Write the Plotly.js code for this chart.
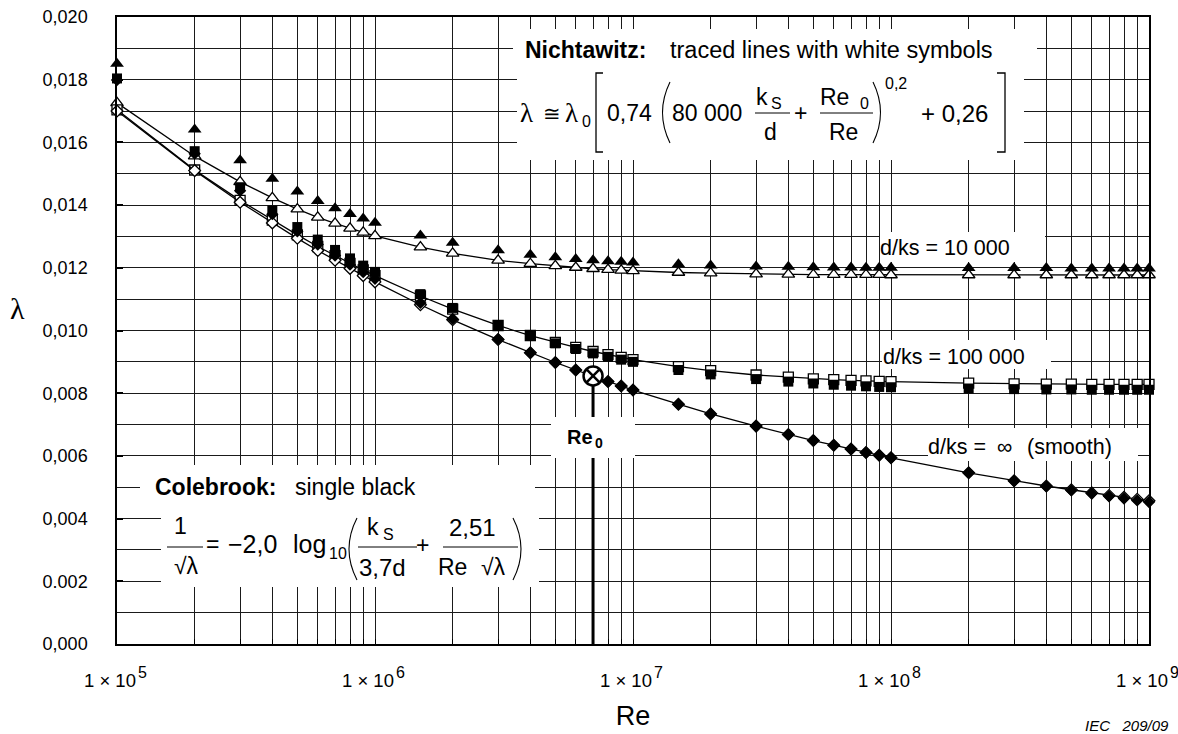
<!DOCTYPE html>
<html>
<head>
<meta charset="utf-8">
<script src="https://cdn.plot.ly/plotly-3.0.1.min.js"></script>
<style>
  html, body { margin: 0; padding: 0; background: #ffffff; }
  #chart { width: 1178px; height: 734px; }
</style>
</head>
<body>
<div id="chart"></div>
<script>
// Reynolds numbers at which the friction factor is evaluated
const reynolds = [
  1e5, 2e5, 3e5, 4e5, 5e5, 6e5, 7e5, 8e5, 9e5, 1e6,
  1.5e6, 2e6, 3e6, 4e6, 5e6, 6e6, 7e6, 8e6, 9e6, 1e7,
  1.5e7, 2e7, 3e7, 4e7, 5e7, 6e7, 7e7, 8e7, 9e7, 1e8,
  2e8, 3e8, 4e8, 5e8, 6e8, 7e8, 8e8, 9e8, 1e9
];

// Colebrook (single black symbols)
const colebrook10k = [
  0.01851, 0.01641, 0.01543, 0.01484, 0.01443, 0.01413, 0.01390, 0.01372, 0.01357, 0.01344,
  0.01303, 0.01280, 0.01256, 0.01242, 0.01234, 0.01228, 0.01224, 0.01221, 0.01219, 0.01217,
  0.01211, 0.01207, 0.01204, 0.01203, 0.01202, 0.01201, 0.01201, 0.01200, 0.01200, 0.01200,
  0.01199, 0.01199, 0.01199, 0.01198, 0.01198, 0.01198, 0.01198, 0.01198, 0.01198
];
const colebrook100k = [
  0.01804, 0.01572, 0.01457, 0.01383, 0.01330, 0.01290, 0.01257, 0.01230, 0.01207, 0.01187,
  0.01116, 0.01072, 0.01017, 0.00983, 0.00959, 0.00941, 0.00927, 0.00916, 0.00907, 0.00900,
  0.00874, 0.00860, 0.00845, 0.00837, 0.00831, 0.00827, 0.00824, 0.00822, 0.00820, 0.00819,
  0.00815, 0.00813, 0.00812, 0.00812, 0.00811, 0.00811, 0.00811, 0.00811, 0.00811
];
const colebrookSmooth = [
  0.01799, 0.01564, 0.01446, 0.01371, 0.01316, 0.01274, 0.01239, 0.01210, 0.01186, 0.01165,
  0.01088, 0.01037, 0.00972, 0.00929, 0.00898, 0.00874, 0.00854, 0.00837, 0.00823, 0.00810,
  0.00765, 0.00734, 0.00695, 0.00668, 0.00649, 0.00634, 0.00622, 0.00611, 0.00602, 0.00594,
  0.00546, 0.00520, 0.00503, 0.00490, 0.00480, 0.00471, 0.00464, 0.00458, 0.00453
];

// Nichtawitz (traced lines with white symbols)
const nichtawitz10k = [
  0.01726, 0.01556, 0.01474, 0.01423, 0.01387, 0.01361, 0.01342, 0.01326, 0.01313, 0.01302,
  0.01266, 0.01246, 0.01224, 0.01213, 0.01206, 0.01201, 0.01197, 0.01194, 0.01192, 0.01190,
  0.01185, 0.01183, 0.01180, 0.01179, 0.01178, 0.01178, 0.01178, 0.01178, 0.01178, 0.01177,
  0.01177, 0.01177, 0.01177, 0.01177, 0.01177, 0.01177, 0.01177, 0.01177, 0.01177
];
const nichtawitz100k = [
  0.01704, 0.01512, 0.01415, 0.01352, 0.01305, 0.01268, 0.01239, 0.01214, 0.01193, 0.01175,
  0.01110, 0.01068, 0.01016, 0.00984, 0.00962, 0.00946, 0.00933, 0.00923, 0.00914, 0.00907,
  0.00885, 0.00872, 0.00858, 0.00851, 0.00846, 0.00843, 0.00841, 0.00839, 0.00838, 0.00837,
  0.00832, 0.00830, 0.00829, 0.00829, 0.00828, 0.00828, 0.00828, 0.00828, 0.00828
];
const nichtawitzSmooth = [
  0.01700, 0.01510, 0.01409, 0.01343, 0.01294, 0.01255, 0.01224, 0.01198, 0.01175, 0.01155,
  0.01082, 0.01034, 0.00971, 0.00929, 0.00898, 0.00874, 0.00854, 0.00837, 0.00823, 0.00810,
  0.00765, 0.00734, 0.00695, 0.00668, 0.00649, 0.00634, 0.00622, 0.00611, 0.00602, 0.00594,
  0.00546, 0.00521, 0.00504, 0.00492, 0.00482, 0.00474, 0.00468, 0.00462, 0.00457
];

// Reference point Re0 / lambda0
const re0 = [7e6];
const lambda0 = [0.00855];

// Axis tick labels
const yTickValues = [0, 0.002, 0.004, 0.006, 0.008, 0.010, 0.012, 0.014, 0.016, 0.018, 0.020];
const yTickLabels = ['0,000', '0.002', '0,004', '0,006', '0,008', '0,010', '0,012', '0,014', '0,016', '0,018', '0,020'];
const xDecades = [1e5, 1e6, 1e7, 1e8, 1e9];
const xTickMantissa = ['1 \u00d7 10', '1 \u00d7 10', '1 \u00d7 10', '1 \u00d7 10', '1 \u00d7 10'];
const xTickExponent = ['5', '6', '7', '8', '9'];

// ---- layout geometry (pixels) ----
const L = 117, R = 1149, T = 17, B = 644;
const Y_MAX = 0.020;
const fx = p => (p - L) / (R - L);
const fy = p => (B - p) / (B - T);
// pixel -> axis value, for panels placed on the subplot
const ax = p => Math.pow(10, 5 + 4 * (p - L) / (R - L));
const ay = p => Y_MAX * (B - p) / (B - T);

// minor x grid: 2..9 within every decade
const xMinor = [];
for (let d = 0; d < xDecades.length - 1; d++) {
  for (let k = 2; k <= 9; k++) xMinor.push(k * xDecades[d]);
}

const SANS = 'Liberation Sans, Arial, Helvetica, sans-serif';
const SERIF = 'Liberation Serif, Times New Roman, serif';
const INK = '#000000';
const GRID = '#1a1a1a';

function note(text, x, y, opts) {
  const font = Object.assign({ family: SANS, size: 23, color: INK }, (opts && opts.font) || {});
  const o = Object.assign({
    text: text, x: fx(x), y: fy(y), xref: 'paper', yref: 'paper',
    showarrow: false, xanchor: 'left', yanchor: 'middle', borderpad: 0
  }, opts || {});
  o.font = font;
  return o;
}

// panels behind the labels: over the grid, under the data
function whiteBox(x0, x1, y0, y1) {
  return { type: 'rect', xref: 'x', yref: 'y', x0: ax(x0), x1: ax(x1), y0: ay(y1), y1: ay(y0),
           fillcolor: '#ffffff', line: { width: 0 }, layer: 'between' };
}
function rule(x0, x1, y, w) {
  return { type: 'line', xref: 'paper', yref: 'paper', x0: fx(x0), x1: fx(x1), y0: fy(y), y1: fy(y),
           line: { color: INK, width: w || 1 }, layer: 'above' };
}
function pathShape(points, w) {
  const d = points.map(seg => {
    const coords = [];
    for (let i = 1; i < seg.length; i += 2) coords.push(fx(seg[i]).toFixed(5) + ',' + fy(seg[i + 1]).toFixed(5));
    return seg[0] + coords.join(' ');
  }).join(' ');
  return { type: 'path', xref: 'paper', yref: 'paper', path: d,
           line: { color: INK, width: w || 1.2 }, layer: 'above' };
}

// ---- traces ----
function whiteSeries(y, symbol, size) {
  return {
    x: reynolds, y: y, type: 'scatter', mode: 'lines+markers', cliponaxis: false, hoverinfo: 'skip',
    line: { color: INK, width: 1.3 },
    marker: { symbol: symbol, size: size, color: '#ffffff', line: { color: INK, width: 1.3 } }
  };
}
function blackSeries(y, symbol, size) {
  return {
    x: reynolds, y: y, type: 'scatter', mode: 'markers', cliponaxis: false, hoverinfo: 'skip',
    marker: { symbol: symbol, size: size, color: INK, line: { width: 0 } }
  };
}

const traces = [
  whiteSeries(nichtawitz10k, 'triangle-up', 11),
  whiteSeries(nichtawitz100k, 'square', 10),
  whiteSeries(nichtawitzSmooth, 'diamond', 9),
  blackSeries(colebrook10k, 'triangle-up', 12),
  blackSeries(colebrook100k, 'square', 10),
  blackSeries(colebrookSmooth, 'diamond', 9.5),
  {
    x: re0, y: lambda0, type: 'scatter', mode: 'markers', cliponaxis: false, hoverinfo: 'skip',
    marker: { symbol: 'circle-x', size: 19, color: '#ffffff', line: { color: INK, width: 2.5 } }
  }
];

// ---- shapes ----
const shapes = [
  // Re0 marker line down to the axis
  { type: 'line', xref: 'x', yref: 'y', x0: re0[0], x1: re0[0], y0: 0, y1: lambda0[0],
    line: { color: INK, width: 3 }, layer: 'between' },
  // white label panels
  whiteBox(513, 1037, 29, 63),
  whiteBox(517, 1024, 63, 160),
  whiteBox(880, 1045, 232, 262),
  whiteBox(882, 1051, 340, 369),
  whiteBox(928, 1138, 428, 461),
  whiteBox(551, 635, 417, 458),
  whiteBox(140, 535, 465, 503),
  whiteBox(161, 539, 503, 587),
  // Nichtawitz formula: fraction bars, brackets and parentheses
  rule(755, 790, 113),
  rule(820, 873, 113),
  pathShape([['M', 603, 73], ['L', 596, 73], ['L', 596, 152], ['L', 603, 152]], 1.3),
  pathShape([['M', 997, 73], ['L', 1005, 73], ['L', 1005, 152], ['L', 997, 152]], 1.3),
  pathShape([['M', 670, 82], ['Q', 655, 112.5, 670, 143]], 1.1),
  pathShape([['M', 873, 82], ['Q', 888, 112.5, 873, 143]], 1.1),
  // Colebrook formula
  rule(167, 203, 547),
  rule(358, 417, 547),
  rule(443, 518, 547),
  pathShape([['M', 357, 518], ['Q', 341, 549, 357, 580]], 1.1),
  pathShape([['M', 513, 518], ['Q', 529, 549, 513, 580]], 1.1)
];

// ---- annotations ----
const sub = { size: 16 };
const bold = (size) => ({ size: size || 23, weight: 'bold' });
const annotations = [
  // Nichtawitz
  note('Nichtawitz:', 524, 50, { font: bold(23) }),
  note('traced lines with white symbols', 669, 50, { font: { size: 23.5 } }),
  note('\u03bb', 519, 113, { font: { family: SERIF, size: 27 } }),
  note('\u2245', 542, 113, { font: { size: 21 } }),
  note('\u03bb', 564, 113, { font: { family: SERIF, size: 27 } }),
  note('0', 581, 122, { font: sub }),
  note('0,74', 606, 113),
  note('80 000', 743, 113, { xanchor: 'right' }),
  note('k', 755, 97),
  note('S', 770, 104, { font: sub }),
  note('d', 770, 132, { xanchor: 'center' }),
  note('+', 800, 113, { xanchor: 'center' }),
  note('Re', 819, 97),
  note('0', 859, 104, { font: sub }),
  note('Re', 843, 132, { xanchor: 'center' }),
  note('0,2', 884, 83, { font: sub }),
  note('+ 0,26', 920, 113, { font: { size: 24 } }),

  // Colebrook
  note('Colebrook:', 154, 487, { font: bold(23) }),
  note('single black', 294, 487),
  note('1', 180, 526, { xanchor: 'center' }),
  note('\u221a\u03bb', 186, 566, { xanchor: 'center' }),
  note('=', 205, 544),
  note('\u22122,0', 227, 544, { font: { size: 25 } }),
  note('log', 327, 544, { xanchor: 'right', font: { size: 25 } }),
  note('10', 328, 553, { font: sub }),
  note('k', 366, 527),
  note('S', 382, 534, { font: sub }),
  note('3,7d', 382, 567, { xanchor: 'center', font: { size: 24 } }),
  note('+', 422, 545, { xanchor: 'center' }),
  note('2,51', 472, 527, { xanchor: 'center', font: { size: 24 } }),
  note('Re', 437, 567),
  note('\u221a\u03bb', 480, 567),

  // curve labels
  note('d/ks = 10 000', 879, 248, { font: { size: 21.5 } }),
  note('d/ks = 100 000', 882, 357, { font: { size: 21.5 } }),
  note('d/ks =', 927, 447, { font: { size: 21.5 } }),
  note('\u221e', 996, 447, { font: { size: 21.5 } }),
  note('(smooth)', 1026, 447, { font: { size: 21.5 } }),

  // Re0 label
  note('Re', 566, 437, { font: bold(20) }),
  note('0', 594, 443, { font: bold(14) }),

  // y-axis symbol
  note('\u03bb', 17, 308, { xanchor: 'center', font: { family: SERIF, size: 30 } }),

  // figure reference
  note('IEC\u00a0\u00a0\u00a0209/09', 1170, 725, { xanchor: 'right', font: { size: 15, style: 'italic' } })
];

// decade labels on the Re axis: mantissa with a raised exponent
xDecades.forEach((v, i) => {
  const lx = Math.log10(v);
  annotations.push({
    text: xTickMantissa[i], x: lx, xref: 'x', y: fy(680), yref: 'paper',
    xanchor: 'right', yanchor: 'middle', xshift: 20, showarrow: false, borderpad: 0,
    font: { family: SANS, size: 18.5, color: INK }
  });
  annotations.push({
    text: xTickExponent[i], x: lx, xref: 'x', y: fy(672), yref: 'paper',
    xanchor: 'left', yanchor: 'middle', xshift: 20, showarrow: false, borderpad: 0,
    font: { family: SANS, size: 16, color: INK }
  });
});

const layout = {
  width: 1178, height: 734,
  margin: { l: L, r: 1178 - R, t: T, b: 734 - B, pad: 0 },
  paper_bgcolor: '#ffffff', plot_bgcolor: '#ffffff',
  showlegend: false,
  font: { family: SANS, color: INK },
  xaxis: {
    type: 'log', range: [5, 9], autorange: false,
    tickmode: 'array', tickvals: xDecades, showticklabels: false,
    ticks: 'inside', ticklen: 5, tickwidth: 1.3, tickcolor: INK,
    showgrid: true, gridcolor: GRID, gridwidth: 1,
    minor: { tickmode: 'array', tickvals: xMinor, showgrid: true, gridcolor: GRID, gridwidth: 1,
             ticks: 'inside', ticklen: 5, tickwidth: 1.3, tickcolor: INK },
    showline: true, linecolor: INK, linewidth: 1.5, mirror: true,
    zeroline: false,
    title: { text: 'Re', font: { family: SANS, size: 27, color: INK }, standoff: 61 }
  },
  yaxis: {
    range: [0, Y_MAX], autorange: false,
    tickmode: 'array', tickvals: yTickValues, ticktext: yTickLabels,
    ticks: 'inside', ticklen: 6, tickwidth: 2, tickcolor: INK,
    showgrid: true, gridcolor: GRID, gridwidth: 1,
    minor: { tickmode: 'linear', tick0: 0, dtick: 0.001, showgrid: true, gridcolor: GRID, gridwidth: 1, ticks: '' },
    showline: true, linecolor: INK, linewidth: 1.5, mirror: true,
    zeroline: false,
    tickfont: { family: SANS, size: 18, color: INK },
    ticklabelstandoff: 24
  },
  shapes: shapes,
  annotations: annotations
};

Plotly.newPlot('chart', traces, layout, { displayModeBar: false, responsive: false });
</script>
</body>
</html>
